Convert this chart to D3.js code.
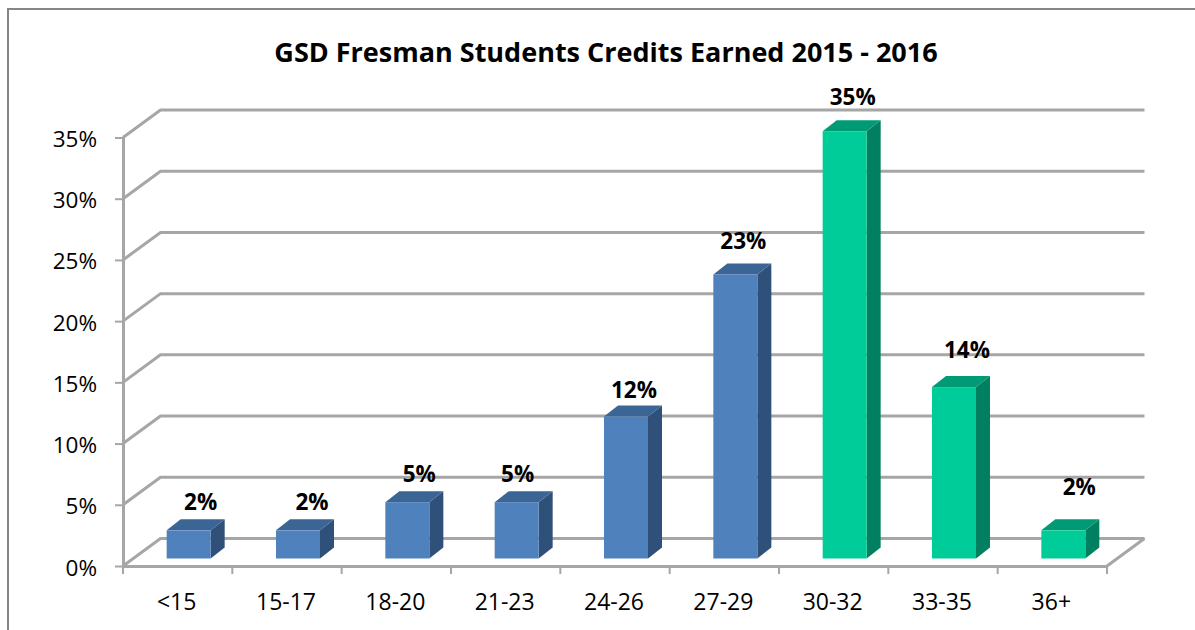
<!DOCTYPE html>
<html>
<head>
<meta charset="utf-8">
<script src="https://cdn.jsdelivr.net/npm/d3@7/dist/d3.min.js"></script>
<style>
html,body{margin:0;padding:0;background:#fff;overflow:hidden}
svg{display:block}
text{font-family:"Open Sans","Noto Sans",sans-serif;fill:#000}
</style>
</head>
<body>
<svg id="chart" width="1195" height="630"></svg>
<script>
const chartTitle = "GSD Fresman Students Credits Earned 2015 - 2016";
const categories = ["<15","15-17","18-20","21-23","24-26","27-29","30-32","33-35","36+"];
const values = [0.023,0.023,0.046,0.046,0.116,0.232,0.349,0.14,0.023];
const seriesGroup = ["blue","blue","blue","blue","blue","blue","green","green","green"];
const yTicks = [0,0.05,0.10,0.15,0.20,0.25,0.30,0.35];
// hand-placed data label offsets, as in the source chart
const labelNudgeX = [12,14,12,1,8,8,8,13,16];
const labelNudgeY = [-20,-20,-20,-20,-18,-25,-26,-29,-35];

const palette = {
  blue:{front:"#4F81BD",top:"#3B6595",side:"#2F5078"},
  green:{front:"#00CC99",top:"#009B74",side:"#008060"}
};
const gridColor = "#A6A6A6";
const W=1195,H=630;
const svg=d3.select("#chart");
const x=d3.scaleBand().domain(categories).range([123,1107]);
const y=d3.scaleLinear().domain([0,0.35]).range([566,137.5]);
const depthX=37.5, depthY=-27.5;

// outer frame (cropped at right and bottom)
svg.append("path").attr("d",`M8,${H}V9H${W}`).attr("fill","none").attr("stroke","#868686").attr("stroke-width",2);

svg.append("text").attr("x",606).attr("y",62).attr("text-anchor","middle")
  .attr("font-size",27).attr("font-weight",700).text(chartTitle);

// gridlines on side and back wall
const grid=svg.append("g").attr("fill","none").attr("stroke",gridColor).attr("stroke-width",3);
grid.selectAll("path").data(yTicks).join("path")
  .attr("d",d=>`M${x.range()[0]},${y(d)}l${depthX},${depthY}H${x.range()[1]+depthX}`);
grid.append("path").attr("d",`M${x.range()[1]},${y(0)}l${depthX},${depthY}`);

// axes
const yAxis=svg.append("g").attr("transform",`translate(${x.range()[0]},0)`)
  .call(d3.axisLeft(y).tickValues(yTicks).tickFormat(d3.format(".0%")).tickSize(8).tickPadding(18).tickSizeOuter(0));
const xTickPos=categories.map(c=>x(c)).concat(x.range()[1]);
const xAxis=svg.append("g").attr("transform",`translate(0,${y(0)})`)
  .call(d3.axisBottom(x).tickSize(0).tickPadding(28));
xAxis.selectAll(".tick").attr("transform",d=>`translate(${x(d)+x.bandwidth()/2-1},0)`);
xAxis.selectAll("tickmark").data(xTickPos).join("line").attr("x1",d=>d).attr("x2",d=>d).attr("y1",0).attr("y2",8)
  .attr("stroke",gridColor).attr("stroke-width",2);
[yAxis,xAxis].forEach(a=>{
  a.selectAll(".domain").attr("stroke",gridColor).attr("stroke-width",3);
  a.selectAll(".tick line").attr("stroke",gridColor).attr("stroke-width",2);
  a.selectAll("text").attr("fill","#000").style("font-family",'"Open Sans","Noto Sans",sans-serif');
});
yAxis.selectAll("text").attr("font-size",22.5).attr("dy","0.4em");
xAxis.selectAll("text").attr("font-size",23);

// bars
const barW=44, barDX=14, barDY=-11, floorDX=11, floorDY=-7.5;
const bx=d=>x(d.c)+x.bandwidth()/2-barW/2+floorDX;
const base=y(0)+floorDY;
const barTop=d=>base-(y(0)-y(d.v));
const data=categories.map((c,i)=>({c,v:values[i],g:seriesGroup[i],i}));
const bars=svg.append("g").selectAll("g").data(data).join("g");
bars.append("path").attr("fill",d=>palette[d.g].side)
  .attr("d",d=>`M${bx(d)+barW},${barTop(d)}l${barDX},${barDY}V${base+barDY}l${-barDX},${-barDY}Z`);
bars.append("path").attr("fill",d=>palette[d.g].top)
  .attr("d",d=>`M${bx(d)},${barTop(d)}l${barDX},${barDY}h${barW}l${-barDX},${-barDY}Z`);
bars.append("rect").attr("fill",d=>palette[d.g].front)
  .attr("x",bx).attr("y",barTop).attr("width",barW).attr("height",d=>base-barTop(d));

// data labels
svg.append("g").selectAll("text").data(data).join("text")
  .attr("x",d=>bx(d)+barW/2+labelNudgeX[d.i])
  .attr("y",d=>barTop(d)+labelNudgeY[d.i])
  .attr("text-anchor","middle").attr("font-size",22.5).attr("font-weight",700)
  .text(d=>d3.format(".0%")(d.v));
</script>
</body>
</html>
